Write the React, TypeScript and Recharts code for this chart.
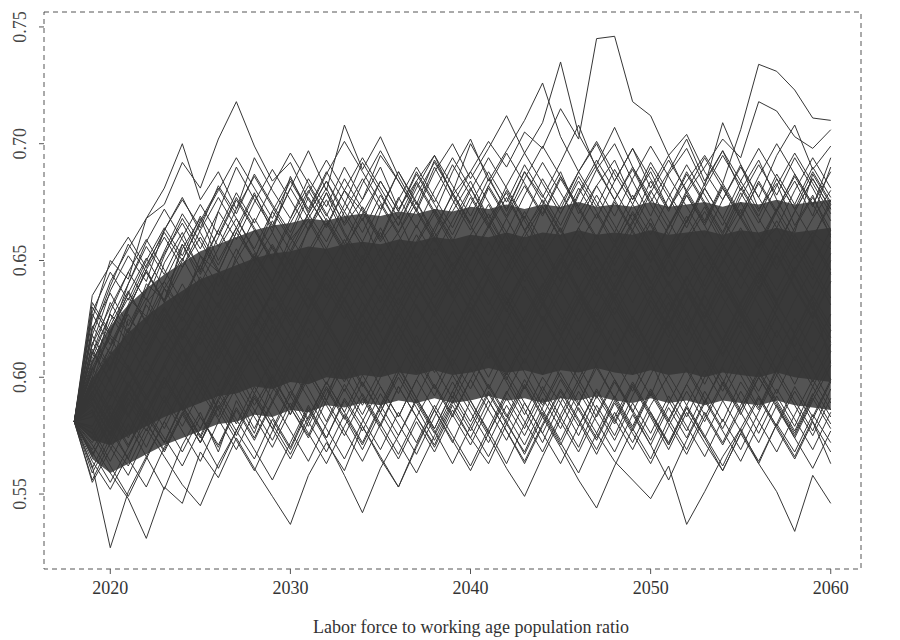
import React from 'react';
import { ComposedChart, Line, Area, XAxis, YAxis, ReferenceArea } from 'recharts';

// simulated paths, one value per year 2018-2060
const years = Array.from({ length: 43 }, (_, i) => 2018 + i);

const pathA = [
  0.581, 0.602, 0.618, 0.611, 0.632, 0.641, 0.628, 0.652, 0.645, 0.662,
  0.650, 0.671, 0.659, 0.668, 0.681, 0.665, 0.676, 0.690, 0.672, 0.684,
  0.695, 0.678, 0.688, 0.701, 0.690, 0.705, 0.698, 0.715, 0.702, 0.745,
  0.746, 0.718, 0.712, 0.695, 0.704, 0.688, 0.676, 0.691, 0.672, 0.683,
  0.665, 0.678, 0.660,
];
const pathB = [
  0.581, 0.612, 0.598, 0.625, 0.617, 0.638, 0.630, 0.621, 0.644, 0.636,
  0.652, 0.641, 0.660, 0.648, 0.637, 0.655, 0.668, 0.651, 0.662, 0.675,
  0.660, 0.671, 0.684, 0.668, 0.679, 0.663, 0.674, 0.688, 0.670, 0.682,
  0.693, 0.676, 0.688, 0.672, 0.684, 0.695, 0.683, 0.706, 0.734, 0.731,
  0.723, 0.711, 0.710,
];
const pathC = [
  0.581, 0.620, 0.641, 0.655, 0.668, 0.674, 0.692, 0.681, 0.702, 0.718,
  0.699, 0.684, 0.692, 0.676, 0.665, 0.680, 0.671, 0.658, 0.669, 0.651,
  0.662, 0.648, 0.657, 0.670, 0.655, 0.641, 0.652, 0.664, 0.649, 0.658,
  0.643, 0.655, 0.668, 0.652, 0.661, 0.647, 0.659, 0.672, 0.656, 0.664,
  0.651, 0.662, 0.655,
];
const pathD = [
  0.581, 0.625, 0.650, 0.642, 0.668, 0.681, 0.700, 0.676, 0.688, 0.672,
  0.694, 0.680, 0.668, 0.685, 0.673, 0.690, 0.676, 0.695, 0.684, 0.671,
  0.688, 0.700, 0.685, 0.698, 0.712, 0.696, 0.709, 0.735, 0.704, 0.690,
  0.676, 0.689, 0.674, 0.661, 0.678, 0.665, 0.681, 0.668, 0.655, 0.671,
  0.684, 0.669, 0.690,
];
const pathE = [
  0.581, 0.608, 0.627, 0.619, 0.640, 0.633, 0.655, 0.668, 0.650, 0.664,
  0.679, 0.662, 0.686, 0.670, 0.658, 0.674, 0.692, 0.679, 0.665, 0.683,
  0.670, 0.688, 0.702, 0.684, 0.697, 0.710, 0.726, 0.703, 0.688, 0.700,
  0.684, 0.698, 0.681, 0.695, 0.679, 0.690, 0.702, 0.694, 0.718, 0.714,
  0.703, 0.698, 0.706,
];
const pathF = [
  0.581, 0.598, 0.620, 0.634, 0.626, 0.649, 0.662, 0.645, 0.671, 0.690,
  0.676, 0.664, 0.681, 0.697, 0.680, 0.708, 0.689, 0.703, 0.686, 0.672,
  0.690, 0.676, 0.663, 0.681, 0.668, 0.654, 0.673, 0.660, 0.678, 0.691,
  0.707, 0.690, 0.675, 0.688, 0.702, 0.684, 0.697, 0.680, 0.693, 0.676,
  0.662, 0.687, 0.674,
];
const pathG = [
  0.581, 0.615, 0.603, 0.629, 0.646, 0.632, 0.657, 0.641, 0.630, 0.652,
  0.668, 0.655, 0.643, 0.664, 0.679, 0.662, 0.650, 0.671, 0.688, 0.674,
  0.693, 0.679, 0.700, 0.686, 0.671, 0.688, 0.677, 0.692, 0.708, 0.689,
  0.700, 0.684, 0.669, 0.687, 0.698, 0.682, 0.709, 0.691, 0.677, 0.695,
  0.708, 0.689, 0.699,
];
const pathH = [
  0.581, 0.562, 0.527, 0.551, 0.566, 0.552, 0.571, 0.585, 0.568, 0.590,
  0.576, 0.598, 0.584, 0.603, 0.590, 0.612, 0.597, 0.585, 0.602, 0.618,
  0.604, 0.591, 0.610, 0.623, 0.607, 0.595, 0.613, 0.600, 0.588, 0.606,
  0.621, 0.605, 0.592, 0.611, 0.626, 0.610, 0.597, 0.615, 0.603, 0.620,
  0.607, 0.624, 0.611,
];
const pathI = [
  0.581, 0.571, 0.559, 0.548, 0.531, 0.553, 0.546, 0.568, 0.557, 0.574,
  0.561, 0.549, 0.537, 0.558, 0.572, 0.560, 0.579, 0.565, 0.553, 0.571,
  0.586, 0.572, 0.590, 0.577, 0.563, 0.580, 0.596, 0.583, 0.570, 0.588,
  0.575, 0.592, 0.607, 0.590, 0.577, 0.594, 0.581, 0.598, 0.586, 0.603,
  0.590, 0.577, 0.595,
];
const pathJ = [
  0.581, 0.589, 0.575, 0.591, 0.580, 0.598, 0.586, 0.572, 0.590, 0.604,
  0.588, 0.601, 0.587, 0.575, 0.593, 0.607, 0.592, 0.579, 0.596, 0.583,
  0.571, 0.588, 0.574, 0.563, 0.580, 0.568, 0.585, 0.572, 0.559, 0.576,
  0.564, 0.556, 0.548, 0.562, 0.537, 0.551, 0.566, 0.578, 0.563, 0.580,
  0.568, 0.584, 0.572,
];
const pathK = [
  0.581, 0.567, 0.580, 0.594, 0.583, 0.572, 0.589, 0.601, 0.586, 0.597,
  0.611, 0.596, 0.584, 0.600, 0.615, 0.601, 0.588, 0.603, 0.619, 0.605,
  0.592, 0.608, 0.595, 0.611, 0.598, 0.584, 0.600, 0.589, 0.575, 0.592,
  0.580, 0.596, 0.583, 0.569, 0.585, 0.572, 0.560, 0.576, 0.563, 0.551,
  0.534, 0.558, 0.546,
];
const pathL = [
  0.581, 0.556, 0.572, 0.562, 0.578, 0.566, 0.554, 0.545, 0.563, 0.577,
  0.565, 0.582, 0.569, 0.586, 0.573, 0.558, 0.542, 0.561, 0.575, 0.590,
  0.577, 0.563, 0.579, 0.594, 0.581, 0.567, 0.583, 0.570, 0.556, 0.544,
  0.562, 0.578, 0.565, 0.582, 0.597, 0.584, 0.571, 0.586, 0.600, 0.588,
  0.574, 0.561, 0.577,
];
const pathM = [
  0.581, 0.574, 0.588, 0.576, 0.592, 0.605, 0.590, 0.578, 0.595, 0.582,
  0.569, 0.556, 0.572, 0.588, 0.574, 0.591, 0.579, 0.566, 0.553, 0.570,
  0.586, 0.601, 0.588, 0.575, 0.561, 0.549, 0.566, 0.582, 0.597, 0.583,
  0.598, 0.585, 0.571, 0.556, 0.573, 0.589, 0.604, 0.590, 0.576, 0.592,
  0.579, 0.596, 0.583,
];
const pathN = [
  0.581, 0.592, 0.579, 0.565, 0.584, 0.598, 0.612, 0.597, 0.583, 0.601,
  0.614, 0.600, 0.587, 0.603, 0.590, 0.606, 0.621, 0.607, 0.593, 0.610,
  0.596, 0.583, 0.599, 0.614, 0.600, 0.586, 0.572, 0.589, 0.605, 0.591,
  0.607, 0.594, 0.611, 0.597, 0.583, 0.600, 0.615, 0.601, 0.587, 0.604,
  0.618, 0.603, 0.589,
];
const pathO = [
  0.581, 0.555, 0.569, 0.584, 0.570, 0.587, 0.602, 0.589, 0.605, 0.592,
  0.578, 0.594, 0.608, 0.595, 0.581, 0.597, 0.584, 0.600, 0.615, 0.602,
  0.617, 0.604, 0.590, 0.576, 0.593, 0.608, 0.594, 0.610, 0.597, 0.612,
  0.599, 0.585, 0.601, 0.616, 0.603, 0.589, 0.605, 0.620, 0.606, 0.593,
  0.609, 0.596, 0.611,
];
const pathP = [
  0.581, 0.596, 0.611, 0.603, 0.618, 0.630, 0.617, 0.632, 0.644, 0.629,
  0.641, 0.627, 0.640, 0.652, 0.638, 0.625, 0.639, 0.651, 0.636, 0.648,
  0.634, 0.646, 0.659, 0.644, 0.631, 0.645, 0.657, 0.642, 0.654, 0.640,
  0.627, 0.641, 0.653, 0.639, 0.651, 0.637, 0.649, 0.662, 0.647, 0.633,
  0.646, 0.658, 0.644,
];
const pathQ = [
  0.581, 0.604, 0.592, 0.610, 0.624, 0.612, 0.626, 0.614, 0.628, 0.641,
  0.627, 0.615, 0.630, 0.617, 0.631, 0.645, 0.632, 0.619, 0.634, 0.621,
  0.636, 0.649, 0.635, 0.622, 0.637, 0.624, 0.639, 0.653, 0.638, 0.626,
  0.640, 0.654, 0.641, 0.628, 0.643, 0.630, 0.616, 0.632, 0.645, 0.631,
  0.619, 0.635, 0.622,
];
const pathR = [
  0.581, 0.583, 0.600, 0.615, 0.601, 0.616, 0.605, 0.620, 0.608, 0.623,
  0.637, 0.624, 0.611, 0.626, 0.640, 0.628, 0.614, 0.629, 0.643, 0.630,
  0.617, 0.632, 0.646, 0.633, 0.620, 0.606, 0.622, 0.637, 0.624, 0.638,
  0.625, 0.612, 0.627, 0.641, 0.628, 0.614, 0.630, 0.644, 0.631, 0.617,
  0.633, 0.647, 0.634,
];
const pathS = [
  0.581, 0.610, 0.627, 0.614, 0.631, 0.620, 0.634, 0.648, 0.635, 0.650,
  0.663, 0.649, 0.637, 0.652, 0.666, 0.653, 0.640, 0.655, 0.642, 0.657,
  0.670, 0.656, 0.643, 0.658, 0.645, 0.660, 0.673, 0.659, 0.646, 0.661,
  0.648, 0.663, 0.650, 0.664, 0.678, 0.665, 0.651, 0.638, 0.653, 0.667,
  0.654, 0.668, 0.680,
];
const pathT = [
  0.581, 0.588, 0.576, 0.593, 0.607, 0.595, 0.611, 0.624, 0.610, 0.626,
  0.613, 0.628, 0.616, 0.603, 0.619, 0.633, 0.620, 0.635, 0.622, 0.609,
  0.624, 0.611, 0.627, 0.642, 0.629, 0.615, 0.631, 0.618, 0.633, 0.647,
  0.634, 0.620, 0.607, 0.623, 0.638, 0.625, 0.640, 0.627, 0.613, 0.629,
  0.644, 0.630, 0.617,
];
const pathU = [
  0.581, 0.618, 0.604, 0.621, 0.609, 0.625, 0.640, 0.626, 0.613, 0.629,
  0.644, 0.657, 0.643, 0.630, 0.646, 0.633, 0.648, 0.662, 0.647, 0.634,
  0.649, 0.636, 0.651, 0.665, 0.650, 0.637, 0.624, 0.640, 0.655, 0.642,
  0.657, 0.670, 0.656, 0.643, 0.658, 0.671, 0.657, 0.644, 0.659, 0.646,
  0.661, 0.648, 0.663,
];
const pathV = [
  0.581, 0.600, 0.586, 0.603, 0.590, 0.606, 0.621, 0.607, 0.622, 0.636,
  0.622, 0.637, 0.651, 0.636, 0.623, 0.638, 0.652, 0.639, 0.626, 0.641,
  0.655, 0.642, 0.628, 0.643, 0.657, 0.644, 0.631, 0.646, 0.633, 0.619,
  0.634, 0.648, 0.635, 0.650, 0.636, 0.622, 0.637, 0.651, 0.638, 0.653,
  0.639, 0.626, 0.641,
];
const pathW = [
  0.581, 0.593, 0.609, 0.596, 0.612, 0.627, 0.613, 0.600, 0.616, 0.631,
  0.618, 0.604, 0.620, 0.635, 0.621, 0.608, 0.624, 0.611, 0.626, 0.640,
  0.627, 0.614, 0.630, 0.617, 0.632, 0.646, 0.633, 0.620, 0.635, 0.622,
  0.609, 0.625, 0.639, 0.626, 0.613, 0.628, 0.615, 0.631, 0.645, 0.632,
  0.618, 0.604, 0.620,
];
const pathX = [
  0.581, 0.627, 0.614, 0.630, 0.645, 0.632, 0.647, 0.660, 0.646, 0.633,
  0.649, 0.662, 0.648, 0.663, 0.676, 0.661, 0.648, 0.664, 0.650, 0.665,
  0.652, 0.667, 0.681, 0.666, 0.653, 0.669, 0.655, 0.641, 0.657, 0.670,
  0.656, 0.671, 0.658, 0.644, 0.660, 0.673, 0.659, 0.675, 0.661, 0.648,
  0.664, 0.677, 0.663,
];
const pathY = [
  0.581, 0.579, 0.594, 0.583, 0.598, 0.613, 0.601, 0.617, 0.603, 0.619,
  0.606, 0.622, 0.609, 0.625, 0.611, 0.598, 0.614, 0.629, 0.615, 0.631,
  0.618, 0.605, 0.621, 0.608, 0.623, 0.610, 0.626, 0.613, 0.599, 0.615,
  0.630, 0.617, 0.633, 0.620, 0.606, 0.622, 0.609, 0.624, 0.611, 0.626,
  0.613, 0.628, 0.615,
];
const pathZ = [
  0.581, 0.607, 0.622, 0.637, 0.623, 0.638, 0.651, 0.637, 0.624, 0.639,
  0.653, 0.640, 0.626, 0.641, 0.655, 0.642, 0.658, 0.644, 0.631, 0.646,
  0.660, 0.647, 0.633, 0.648, 0.662, 0.649, 0.635, 0.650, 0.664, 0.651,
  0.637, 0.652, 0.666, 0.653, 0.639, 0.626, 0.642, 0.656, 0.643, 0.629,
  0.645, 0.659, 0.646,
];
const pathAA = [
  0.581, 0.597, 0.585, 0.574, 0.590, 0.604, 0.619, 0.606, 0.592, 0.608,
  0.623, 0.637, 0.624, 0.610, 0.597, 0.613, 0.628, 0.642, 0.629, 0.615,
  0.602, 0.618, 0.633, 0.647, 0.634, 0.620, 0.607, 0.623, 0.638, 0.652,
  0.639, 0.625, 0.611, 0.627, 0.642, 0.656, 0.643, 0.629, 0.616, 0.632,
  0.647, 0.633, 0.620,
];
const pathAB = [
  0.581, 0.614, 0.630, 0.645, 0.659, 0.646, 0.632, 0.648, 0.663, 0.650,
  0.636, 0.623, 0.639, 0.654, 0.668, 0.655, 0.641, 0.627, 0.643, 0.658,
  0.672, 0.659, 0.645, 0.631, 0.647, 0.662, 0.676, 0.663, 0.649, 0.635,
  0.651, 0.666, 0.680, 0.667, 0.653, 0.639, 0.655, 0.669, 0.683, 0.670,
  0.656, 0.642, 0.658,
];
const pathAC = [
  0.581, 0.590, 0.605, 0.620, 0.634, 0.621, 0.607, 0.594, 0.610, 0.625,
  0.611, 0.598, 0.614, 0.629, 0.643, 0.630, 0.616, 0.603, 0.619, 0.634,
  0.648, 0.635, 0.621, 0.608, 0.624, 0.639, 0.625, 0.612, 0.628, 0.643,
  0.657, 0.644, 0.630, 0.617, 0.633, 0.648, 0.634, 0.621, 0.637, 0.652,
  0.638, 0.625, 0.641,
];
const pathAD = [
  0.581, 0.566, 0.582, 0.597, 0.584, 0.600, 0.587, 0.603, 0.617, 0.604,
  0.619, 0.606, 0.592, 0.608, 0.623, 0.610, 0.596, 0.612, 0.627, 0.613,
  0.628, 0.642, 0.629, 0.615, 0.601, 0.617, 0.632, 0.618, 0.605, 0.621,
  0.636, 0.622, 0.608, 0.624, 0.611, 0.597, 0.613, 0.628, 0.614, 0.601,
  0.617, 0.632, 0.606,
];
const pathAE = [
  0.581, 0.632, 0.619, 0.636, 0.651, 0.638, 0.624, 0.640, 0.655, 0.668,
  0.654, 0.641, 0.657, 0.670, 0.684, 0.669, 0.656, 0.642, 0.658, 0.672,
  0.659, 0.645, 0.661, 0.674, 0.660, 0.647, 0.633, 0.649, 0.664, 0.678,
  0.665, 0.651, 0.637, 0.653, 0.667, 0.681, 0.668, 0.654, 0.640, 0.656,
  0.671, 0.685, 0.672,
];
const pathAF = [
  0.581, 0.603, 0.617, 0.604, 0.590, 0.606, 0.620, 0.633, 0.619, 0.605,
  0.621, 0.636, 0.622, 0.638, 0.624, 0.611, 0.627, 0.613, 0.629, 0.644,
  0.630, 0.617, 0.632, 0.619, 0.634, 0.621, 0.637, 0.651, 0.637, 0.624,
  0.610, 0.626, 0.612, 0.628, 0.643, 0.629, 0.645, 0.631, 0.618, 0.603,
  0.619, 0.634, 0.650,
];
const pathAG = [
  0.581, 0.586, 0.572, 0.588, 0.603, 0.589, 0.604, 0.618, 0.632, 0.618,
  0.604, 0.590, 0.606, 0.621, 0.607, 0.594, 0.610, 0.596, 0.583, 0.599,
  0.614, 0.628, 0.614, 0.600, 0.616, 0.602, 0.588, 0.604, 0.619, 0.605,
  0.591, 0.607, 0.622, 0.636, 0.622, 0.608, 0.594, 0.610, 0.625, 0.611,
  0.597, 0.613, 0.599,
];
const pathAH = [
  0.581, 0.621, 0.636, 0.622, 0.638, 0.653, 0.666, 0.652, 0.639, 0.655,
  0.641, 0.656, 0.643, 0.629, 0.645, 0.659, 0.645, 0.632, 0.647, 0.661,
  0.648, 0.634, 0.650, 0.664, 0.677, 0.663, 0.650, 0.636, 0.652, 0.638,
  0.653, 0.667, 0.654, 0.640, 0.626, 0.642, 0.657, 0.643, 0.658, 0.672,
  0.659, 0.645, 0.631,
];
const pathAI = [
  0.581, 0.576, 0.591, 0.605, 0.592, 0.578, 0.594, 0.609, 0.596, 0.611,
  0.625, 0.612, 0.598, 0.614, 0.601, 0.617, 0.632, 0.618, 0.605, 0.591,
  0.607, 0.622, 0.609, 0.595, 0.611, 0.626, 0.640, 0.626, 0.612, 0.628,
  0.615, 0.601, 0.617, 0.632, 0.618, 0.635, 0.621, 0.607, 0.594, 0.610,
  0.625, 0.611, 0.627,
];
const pathAJ = [
  0.581, 0.611, 0.598, 0.584, 0.600, 0.615, 0.629, 0.643, 0.630, 0.645,
  0.631, 0.618, 0.633, 0.648, 0.634, 0.650, 0.636, 0.623, 0.638, 0.653,
  0.639, 0.654, 0.640, 0.627, 0.642, 0.656, 0.643, 0.629, 0.616, 0.631,
  0.646, 0.632, 0.648, 0.634, 0.620, 0.636, 0.650, 0.664, 0.650, 0.637,
  0.652, 0.638, 0.653,
];
const pathAK = [
  0.581, 0.599, 0.613, 0.627, 0.614, 0.629, 0.616, 0.631, 0.617, 0.633,
  0.646, 0.633, 0.648, 0.634, 0.621, 0.637, 0.652, 0.638, 0.653, 0.639,
  0.626, 0.641, 0.655, 0.642, 0.628, 0.644, 0.631, 0.646, 0.661, 0.647,
  0.633, 0.649, 0.635, 0.622, 0.638, 0.653, 0.639, 0.626, 0.642, 0.656,
  0.643, 0.629, 0.645,
];
const pathAL = [
  0.581, 0.568, 0.555, 0.570, 0.585, 0.572, 0.588, 0.575, 0.561, 0.577,
  0.592, 0.578, 0.565, 0.581, 0.596, 0.583, 0.569, 0.585, 0.600, 0.587,
  0.573, 0.589, 0.604, 0.590, 0.577, 0.563, 0.579, 0.594, 0.581, 0.567,
  0.583, 0.598, 0.585, 0.571, 0.587, 0.574, 0.560, 0.576, 0.591, 0.578,
  0.565, 0.581, 0.563,
];
const pathAM = [
  0.581, 0.635, 0.648, 0.660, 0.647, 0.663, 0.677, 0.662, 0.648, 0.664,
  0.650, 0.637, 0.653, 0.667, 0.653, 0.640, 0.626, 0.642, 0.657, 0.643,
  0.630, 0.645, 0.659, 0.646, 0.632, 0.619, 0.635, 0.650, 0.636, 0.623,
  0.638, 0.653, 0.640, 0.655, 0.669, 0.655, 0.642, 0.628, 0.644, 0.659,
  0.645, 0.660, 0.674,
];
const pathAN = [
  0.581, 0.594, 0.580, 0.596, 0.611, 0.625, 0.611, 0.597, 0.613, 0.599,
  0.615, 0.630, 0.616, 0.603, 0.619, 0.634, 0.620, 0.607, 0.622, 0.608,
  0.595, 0.611, 0.626, 0.612, 0.599, 0.615, 0.601, 0.617, 0.632, 0.646,
  0.632, 0.619, 0.635, 0.621, 0.637, 0.623, 0.610, 0.625, 0.639, 0.626,
  0.612, 0.598, 0.614,
];

// paths along the upper fringe of the dense mass
const upper1 = [
  0.581, 0.614, 0.637, 0.652, 0.641, 0.663, 0.676, 0.664, 0.682, 0.670,
  0.687, 0.674, 0.662, 0.679, 0.693, 0.680, 0.667, 0.684, 0.671, 0.688,
  0.675, 0.691, 0.678, 0.665, 0.682, 0.696, 0.683, 0.670, 0.686, 0.673,
  0.689, 0.676, 0.692, 0.679, 0.666, 0.683, 0.697, 0.684, 0.671, 0.687,
  0.674, 0.690, 0.677,
];
const upper2 = [
  0.581, 0.606, 0.624, 0.640, 0.656, 0.644, 0.660, 0.674, 0.661, 0.677,
  0.664, 0.651, 0.668, 0.682, 0.669, 0.685, 0.672, 0.659, 0.676, 0.690,
  0.677, 0.664, 0.680, 0.694, 0.681, 0.668, 0.685, 0.672, 0.688, 0.701,
  0.687, 0.674, 0.690, 0.677, 0.664, 0.681, 0.668, 0.684, 0.698, 0.685,
  0.672, 0.688, 0.675,
];
const upper3 = [
  0.581, 0.622, 0.610, 0.631, 0.648, 0.662, 0.650, 0.667, 0.681, 0.668,
  0.655, 0.671, 0.685, 0.672, 0.688, 0.675, 0.662, 0.678, 0.665, 0.681,
  0.695, 0.682, 0.669, 0.685, 0.672, 0.688, 0.675, 0.662, 0.679, 0.693,
  0.680, 0.667, 0.684, 0.671, 0.687, 0.674, 0.661, 0.677, 0.691, 0.678,
  0.694, 0.681, 0.667,
];
const upper4 = [
  0.581, 0.600, 0.628, 0.645, 0.633, 0.652, 0.668, 0.655, 0.671, 0.659,
  0.675, 0.689, 0.676, 0.663, 0.679, 0.666, 0.683, 0.697, 0.684, 0.671,
  0.658, 0.674, 0.688, 0.675, 0.662, 0.678, 0.692, 0.679, 0.666, 0.682,
  0.669, 0.685, 0.699, 0.686, 0.673, 0.660, 0.676, 0.690, 0.677, 0.664,
  0.680, 0.694, 0.681,
];
const upper5 = [
  0.581, 0.628, 0.645, 0.633, 0.650, 0.664, 0.652, 0.669, 0.656, 0.672,
  0.686, 0.673, 0.660, 0.677, 0.664, 0.680, 0.694, 0.681, 0.668, 0.684,
  0.671, 0.658, 0.674, 0.688, 0.675, 0.691, 0.678, 0.665, 0.681, 0.668,
  0.684, 0.698, 0.685, 0.672, 0.688, 0.675, 0.662, 0.679, 0.666, 0.682,
  0.696, 0.683, 0.670,
];
const upper6 = [
  0.581, 0.610, 0.632, 0.619, 0.637, 0.654, 0.670, 0.658, 0.645, 0.662,
  0.678, 0.665, 0.681, 0.668, 0.655, 0.671, 0.685, 0.672, 0.688, 0.675,
  0.662, 0.679, 0.666, 0.682, 0.696, 0.683, 0.670, 0.686, 0.673, 0.660,
  0.676, 0.690, 0.677, 0.664, 0.680, 0.694, 0.681, 0.668, 0.684, 0.671,
  0.687, 0.674, 0.661,
];
const upper7 = [
  0.581, 0.618, 0.639, 0.657, 0.645, 0.633, 0.650, 0.666, 0.680, 0.694,
  0.681, 0.668, 0.684, 0.671, 0.687, 0.701, 0.688, 0.675, 0.662, 0.678,
  0.692, 0.679, 0.666, 0.682, 0.669, 0.685, 0.699, 0.686, 0.673, 0.689,
  0.676, 0.663, 0.679, 0.693, 0.680, 0.667, 0.683, 0.670, 0.686, 0.700,
  0.687, 0.674, 0.688,
];
const upper8 = [
  0.581, 0.604, 0.619, 0.636, 0.624, 0.641, 0.657, 0.644, 0.660, 0.676,
  0.663, 0.650, 0.666, 0.680, 0.667, 0.654, 0.670, 0.684, 0.671, 0.687,
  0.674, 0.661, 0.677, 0.664, 0.680, 0.667, 0.654, 0.670, 0.684, 0.671,
  0.658, 0.674, 0.661, 0.677, 0.691, 0.678, 0.665, 0.681, 0.668, 0.655,
  0.671, 0.685, 0.672,
];
const upper9 = [
  0.581, 0.630, 0.618, 0.640, 0.658, 0.672, 0.659, 0.646, 0.663, 0.679,
  0.666, 0.682, 0.696, 0.683, 0.670, 0.657, 0.673, 0.660, 0.677, 0.664,
  0.680, 0.694, 0.681, 0.668, 0.655, 0.671, 0.658, 0.674, 0.688, 0.675,
  0.662, 0.678, 0.665, 0.651, 0.667, 0.681, 0.695, 0.682, 0.669, 0.685,
  0.672, 0.659, 0.676,
];
const upper10 = [
  0.581, 0.596, 0.613, 0.629, 0.646, 0.660, 0.647, 0.663, 0.677, 0.664,
  0.651, 0.667, 0.654, 0.670, 0.684, 0.671, 0.658, 0.674, 0.661, 0.648,
  0.664, 0.678, 0.665, 0.652, 0.668, 0.682, 0.669, 0.685, 0.672, 0.659,
  0.675, 0.662, 0.649, 0.665, 0.679, 0.666, 0.682, 0.669, 0.656, 0.672,
  0.686, 0.673, 0.694,
];

// paths along the lower fringe
const lower1 = [
  0.581, 0.564, 0.552, 0.567, 0.580, 0.569, 0.584, 0.572, 0.587, 0.599,
  0.586, 0.573, 0.589, 0.576, 0.563, 0.579, 0.593, 0.580, 0.596, 0.583,
  0.570, 0.586, 0.574, 0.590, 0.577, 0.564, 0.580, 0.595, 0.582, 0.569,
  0.585, 0.572, 0.588, 0.601, 0.588, 0.575, 0.562, 0.578, 0.592, 0.579,
  0.594, 0.581, 0.568,
];
const lower2 = [
  0.581, 0.572, 0.585, 0.571, 0.586, 0.574, 0.562, 0.578, 0.593, 0.580,
  0.596, 0.583, 0.570, 0.587, 0.574, 0.590, 0.577, 0.593, 0.580, 0.567,
  0.583, 0.598, 0.585, 0.572, 0.588, 0.575, 0.591, 0.578, 0.594, 0.581,
  0.568, 0.584, 0.571, 0.587, 0.574, 0.590, 0.577, 0.564, 0.580, 0.595,
  0.582, 0.569, 0.585,
];
const lower3 = [
  0.581, 0.559, 0.574, 0.589, 0.577, 0.592, 0.579, 0.594, 0.582, 0.569,
  0.585, 0.600, 0.587, 0.574, 0.590, 0.577, 0.564, 0.580, 0.567, 0.583,
  0.597, 0.584, 0.571, 0.587, 0.602, 0.589, 0.576, 0.592, 0.579, 0.595,
  0.582, 0.569, 0.585, 0.572, 0.588, 0.603, 0.590, 0.577, 0.564, 0.580,
  0.596, 0.583, 0.599,
];
const lower4 = [
  0.581, 0.585, 0.570, 0.558, 0.575, 0.590, 0.577, 0.564, 0.581, 0.596,
  0.583, 0.570, 0.586, 0.601, 0.588, 0.575, 0.591, 0.578, 0.565, 0.581,
  0.568, 0.584, 0.599, 0.586, 0.573, 0.589, 0.576, 0.563, 0.579, 0.594,
  0.581, 0.597, 0.584, 0.571, 0.587, 0.574, 0.590, 0.605, 0.592, 0.579,
  0.566, 0.582, 0.598,
];
const lower5 = [
  0.581, 0.578, 0.564, 0.580, 0.566, 0.581, 0.596, 0.583, 0.570, 0.586,
  0.573, 0.589, 0.604, 0.591, 0.578, 0.565, 0.581, 0.596, 0.583, 0.599,
  0.586, 0.573, 0.560, 0.576, 0.591, 0.578, 0.594, 0.581, 0.568, 0.584,
  0.599, 0.586, 0.573, 0.589, 0.604, 0.591, 0.578, 0.594, 0.581, 0.568,
  0.584, 0.599, 0.586,
];
const lower6 = [
  0.581, 0.561, 0.577, 0.565, 0.553, 0.570, 0.585, 0.572, 0.588, 0.575,
  0.591, 0.578, 0.594, 0.581, 0.568, 0.584, 0.571, 0.587, 0.602, 0.589,
  0.576, 0.592, 0.579, 0.566, 0.582, 0.597, 0.584, 0.571, 0.587, 0.574,
  0.590, 0.577, 0.593, 0.580, 0.567, 0.583, 0.598, 0.585, 0.572, 0.588,
  0.575, 0.591, 0.578,
];
const lower7 = [
  0.581, 0.591, 0.578, 0.594, 0.581, 0.568, 0.584, 0.599, 0.586, 0.573,
  0.560, 0.577, 0.592, 0.579, 0.595, 0.582, 0.598, 0.585, 0.572, 0.559,
  0.575, 0.590, 0.577, 0.593, 0.580, 0.596, 0.583, 0.599, 0.586, 0.573,
  0.589, 0.576, 0.563, 0.579, 0.594, 0.581, 0.597, 0.584, 0.600, 0.587,
  0.574, 0.590, 0.605,
];
const lower8 = [
  0.581, 0.569, 0.583, 0.598, 0.585, 0.572, 0.588, 0.575, 0.591, 0.606,
  0.593, 0.580, 0.567, 0.583, 0.598, 0.585, 0.601, 0.588, 0.575, 0.591,
  0.578, 0.594, 0.581, 0.597, 0.584, 0.571, 0.587, 0.602, 0.589, 0.576,
  0.592, 0.579, 0.595, 0.582, 0.569, 0.585, 0.572, 0.588, 0.603, 0.590,
  0.577, 0.593, 0.580,
];
const lower9 = [
  0.581, 0.576, 0.562, 0.549, 0.565, 0.581, 0.568, 0.583, 0.571, 0.587,
  0.574, 0.590, 0.577, 0.564, 0.580, 0.595, 0.582, 0.569, 0.585, 0.572,
  0.588, 0.575, 0.562, 0.578, 0.594, 0.581, 0.568, 0.584, 0.599, 0.586,
  0.573, 0.589, 0.576, 0.592, 0.579, 0.566, 0.582, 0.569, 0.585, 0.601,
  0.588, 0.575, 0.591,
];
const lower10 = [
  0.581, 0.597, 0.583, 0.570, 0.586, 0.600, 0.587, 0.574, 0.590, 0.577,
  0.593, 0.608, 0.595, 0.582, 0.598, 0.585, 0.572, 0.588, 0.604, 0.591,
  0.578, 0.594, 0.609, 0.596, 0.583, 0.599, 0.586, 0.573, 0.589, 0.604,
  0.591, 0.578, 0.594, 0.581, 0.597, 0.612, 0.599, 0.586, 0.602, 0.589,
  0.576, 0.592, 0.607,
];

// where hundreds of paths overlap: a dense halo and a near-solid core
const haloLow = [
  0.581, 0.565, 0.559, 0.563, 0.567, 0.571, 0.574, 0.577, 0.580, 0.581,
  0.584, 0.583, 0.586, 0.585, 0.588, 0.587, 0.589, 0.588, 0.590, 0.589,
  0.591, 0.589, 0.590, 0.592, 0.590, 0.591, 0.589, 0.591, 0.590, 0.592,
  0.590, 0.589, 0.591, 0.589, 0.590, 0.588, 0.590, 0.589, 0.588, 0.590,
  0.588, 0.587, 0.586,
];
const haloHigh = [
  0.581, 0.607, 0.622, 0.631, 0.638, 0.644, 0.649, 0.654, 0.657, 0.660,
  0.663, 0.665, 0.666, 0.668, 0.667, 0.669, 0.670, 0.669, 0.671, 0.670,
  0.672, 0.671, 0.673, 0.672, 0.674, 0.672, 0.674, 0.673, 0.675, 0.673,
  0.674, 0.673, 0.675, 0.673, 0.674, 0.675, 0.673, 0.675, 0.674, 0.676,
  0.674, 0.675, 0.676,
];
const coreLow = [
  0.581, 0.573, 0.571, 0.575, 0.579, 0.583, 0.586, 0.589, 0.592, 0.593,
  0.596, 0.595, 0.598, 0.597, 0.600, 0.599, 0.601, 0.600, 0.602, 0.601,
  0.603, 0.601, 0.602, 0.604, 0.602, 0.603, 0.601, 0.603, 0.602, 0.604,
  0.602, 0.601, 0.603, 0.601, 0.602, 0.600, 0.602, 0.601, 0.600, 0.602,
  0.600, 0.599, 0.598,
];
const coreHigh = [
  0.581, 0.599, 0.610, 0.619, 0.626, 0.632, 0.637, 0.642, 0.645, 0.648,
  0.651, 0.653, 0.654, 0.656, 0.655, 0.657, 0.658, 0.657, 0.659, 0.658,
  0.660, 0.659, 0.661, 0.660, 0.662, 0.660, 0.662, 0.661, 0.663, 0.661,
  0.662, 0.661, 0.663, 0.661, 0.662, 0.663, 0.661, 0.663, 0.662, 0.664,
  0.662, 0.663, 0.664,
];

const yearTicks = [2020, 2030, 2040, 2050, 2060];
const ratioTicks = [0.55, 0.6, 0.65, 0.7, 0.75];

const paths = [
  pathA, pathB, pathC, pathD, pathE, pathF, pathG, pathH, pathI, pathJ,
  pathK, pathL, pathM, pathN, pathO, pathP, pathQ, pathR, pathS, pathT,
  pathU, pathV, pathW, pathX, pathY, pathZ, pathAA, pathAB, pathAC, pathAD,
  pathAE, pathAF, pathAG, pathAH, pathAI, pathAJ, pathAK, pathAL, pathAM, pathAN,
  upper1, upper2, upper3, upper4, upper5, upper6, upper7, upper8, upper9, upper10,
  lower1, lower2, lower3, lower4, lower5, lower6, lower7, lower8, lower9, lower10,
];

const data = years.map((year, i) => {
  const row: Record<string, any> = {
    year,
    halo: [haloLow[i], haloHigh[i]],
    core: [coreLow[i], coreHigh[i]],
  };
  paths.forEach((p, k) => {
    row['s' + k] = p[i];
  });
  return row;
});

// R-style 4% padding around the data range
const xDomain = [2016.32, 2061.68];
const yDomain = [0.5179, 0.7564];

const FONT = "'Liberation Serif', 'Times New Roman', Times, 'DejaVu Serif', 'Noto Serif', serif";
const INK = '#363636';

const YTick = ({ x, y, payload }: any) => {
  const cx = x - 17;
  return (
    <text
      x={cx}
      y={y}
      transform={`rotate(-90 ${cx} ${y})`}
      textAnchor="middle"
      dominantBaseline="central"
      style={{ fontFamily: FONT }}
      fontSize={18}
      fill="#444"
    >
      {Number(payload.value).toFixed(2)}
    </text>
  );
};

const XTick = ({ x, y, payload }: any) => (
  <text
    x={x}
    y={y + 12}
    textAnchor="middle"
    dominantBaseline="central"
    style={{ fontFamily: FONT }}
    fontSize={18}
    fill="#333"
  >
    {payload.value}
  </text>
);

export default function App() {
  return (
    <div style={{ position: 'absolute', left: 0, top: 0, width: 900, height: 640, background: '#fff' }}>
      <ComposedChart width={900} height={640} data={data} margin={{ top: 12, right: 39, bottom: 0, left: 0 }}>
        <XAxis
          dataKey="year"
          type="number"
          domain={xDomain}
          ticks={yearTicks}
          allowDataOverflow
          axisLine={false}
          tickSize={5}
          tickLine={{ stroke: '#555' }}
          tick={<XTick />}
          height={71}
        />
        <YAxis
          type="number"
          domain={yDomain}
          ticks={ratioTicks}
          allowDataOverflow
          axisLine={false}
          tickSize={5}
          tickLine={{ stroke: '#555' }}
          tick={<YTick />}
          width={44}
        />
        <Area
          dataKey="halo"
          type="linear"
          stroke="none"
          fill={INK}
          fillOpacity={0.85}
          isAnimationActive={false}
        />
        <Area
          dataKey="core"
          type="linear"
          stroke="none"
          fill={INK}
          fillOpacity={0.9}
          isAnimationActive={false}
        />
        {paths.map((_, k) => (
          <Line
            key={k}
            dataKey={'s' + k}
            type="linear"
            stroke={INK}
            strokeWidth={1}
            dot={false}
            activeDot={false}
            isAnimationActive={false}
          />
        ))}
        <ReferenceArea
          x1={xDomain[0]}
          x2={xDomain[1]}
          y1={yDomain[0]}
          y2={yDomain[1]}
          fill="none"
          stroke="#555"
          strokeDasharray="5 4"
          ifOverflow="visible"
        />
      </ComposedChart>
      <div
        style={{
          position: 'absolute',
          top: 617,
          left: 0,
          width: 942,
          textAlign: 'center',
          fontFamily: FONT,
          fontSize: 18,
          color: '#333',
        }}
      >
        Labor force to working age population ratio
      </div>
    </div>
  );
}
